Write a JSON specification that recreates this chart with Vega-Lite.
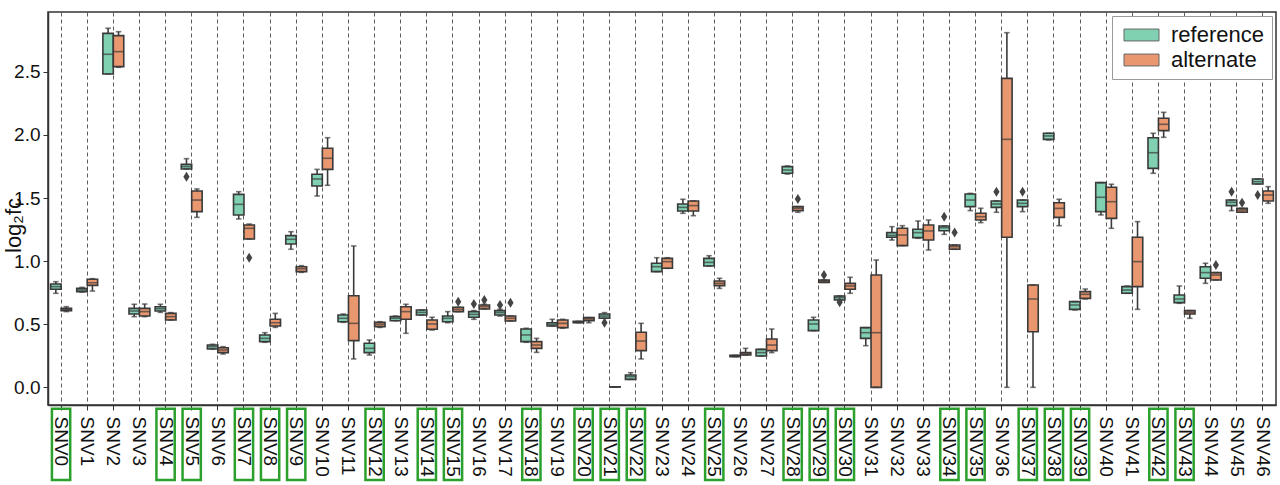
{
  "$schema": "https://vega.github.io/schema/vega-lite/v6.json",
  "width": 1228,
  "height": 393,
  "autosize": {"type": "none"},
  "padding": {"left": 48, "top": 12, "right": 4, "bottom": 80},
  "background": "white",
  "config": {
    "font": "Liberation Sans",
    "view": {"stroke": "#333333", "strokeWidth": 1.5},
    "axis": {"labelFont": "Liberation Sans", "titleFont": "Liberation Sans", "labelColor": "#111", "titleColor": "#111", "domainColor": "#333333", "tickColor": "#333333"}
  },
  "datasets": {
    "boxes": [
      {"snv":"SNV0","g":"reference","lo":0.745,"q1":0.777,"med":0.798,"q3":0.819,"hi":0.837},
      {"snv":"SNV0","g":"alternate","lo":0.600,"q1":0.608,"med":0.615,"q3":0.626,"hi":0.639},
      {"snv":"SNV1","g":"reference","lo":0.755,"q1":0.758,"med":0.771,"q3":0.784,"hi":0.792},
      {"snv":"SNV1","g":"alternate","lo":0.763,"q1":0.808,"med":0.829,"q3":0.856,"hi":0.861},
      {"snv":"SNV2","g":"reference","lo":2.483,"q1":2.483,"med":2.639,"q3":2.805,"hi":2.845},
      {"snv":"SNV2","g":"alternate","lo":2.536,"q1":2.541,"med":2.660,"q3":2.787,"hi":2.818},
      {"snv":"SNV3","g":"reference","lo":0.560,"q1":0.581,"med":0.605,"q3":0.626,"hi":0.658},
      {"snv":"SNV3","g":"alternate","lo":0.560,"q1":0.565,"med":0.600,"q3":0.626,"hi":0.660},
      {"snv":"SNV4","g":"reference","lo":0.594,"q1":0.605,"med":0.623,"q3":0.639,"hi":0.658},
      {"snv":"SNV4","g":"alternate","lo":0.534,"q1":0.534,"med":0.560,"q3":0.586,"hi":0.592},
      {"snv":"SNV5","g":"reference","lo":1.730,"q1":1.730,"med":1.749,"q3":1.767,"hi":1.812},
      {"snv":"SNV5","g":"alternate","lo":1.347,"q1":1.392,"med":1.484,"q3":1.556,"hi":1.572},
      {"snv":"SNV6","g":"reference","lo":0.304,"q1":0.304,"med":0.322,"q3":0.335,"hi":0.341},
      {"snv":"SNV6","g":"alternate","lo":0.264,"q1":0.275,"med":0.296,"q3":0.314,"hi":0.322},
      {"snv":"SNV7","g":"reference","lo":1.334,"q1":1.366,"med":1.450,"q3":1.529,"hi":1.550},
      {"snv":"SNV7","g":"alternate","lo":1.175,"q1":1.175,"med":1.260,"q3":1.286,"hi":1.294},
      {"snv":"SNV8","g":"reference","lo":0.357,"q1":0.362,"med":0.388,"q3":0.415,"hi":0.433},
      {"snv":"SNV8","g":"alternate","lo":0.475,"q1":0.486,"med":0.512,"q3":0.539,"hi":0.586},
      {"snv":"SNV9","g":"reference","lo":1.094,"q1":1.136,"med":1.173,"q3":1.202,"hi":1.233},
      {"snv":"SNV9","g":"alternate","lo":0.911,"q1":0.917,"med":0.940,"q3":0.956,"hi":0.964},
      {"snv":"SNV10","g":"reference","lo":1.516,"q1":1.595,"med":1.651,"q3":1.688,"hi":1.727},
      {"snv":"SNV10","g":"alternate","lo":1.601,"q1":1.727,"med":1.815,"q3":1.894,"hi":1.978},
      {"snv":"SNV11","g":"reference","lo":0.515,"q1":0.520,"med":0.547,"q3":0.573,"hi":0.581},
      {"snv":"SNV11","g":"alternate","lo":0.225,"q1":0.370,"med":0.507,"q3":0.726,"hi":1.120},
      {"snv":"SNV12","g":"reference","lo":0.256,"q1":0.275,"med":0.309,"q3":0.349,"hi":0.375},
      {"snv":"SNV12","g":"alternate","lo":0.475,"q1":0.481,"med":0.499,"q3":0.515,"hi":0.520},
      {"snv":"SNV13","g":"reference","lo":0.528,"q1":0.528,"med":0.547,"q3":0.560,"hi":0.565},
      {"snv":"SNV13","g":"alternate","lo":0.428,"q1":0.539,"med":0.600,"q3":0.639,"hi":0.658},
      {"snv":"SNV14","g":"reference","lo":0.573,"q1":0.573,"med":0.594,"q3":0.613,"hi":0.613},
      {"snv":"SNV14","g":"alternate","lo":0.454,"q1":0.460,"med":0.502,"q3":0.534,"hi":0.555},
      {"snv":"SNV15","g":"reference","lo":0.512,"q1":0.520,"med":0.547,"q3":0.565,"hi":0.600},
      {"snv":"SNV15","g":"alternate","lo":0.600,"q1":0.600,"med":0.618,"q3":0.634,"hi":0.634},
      {"snv":"SNV16","g":"reference","lo":0.539,"q1":0.555,"med":0.578,"q3":0.600,"hi":0.608},
      {"snv":"SNV16","g":"alternate","lo":0.621,"q1":0.621,"med":0.639,"q3":0.652,"hi":0.658},
      {"snv":"SNV17","g":"reference","lo":0.565,"q1":0.573,"med":0.592,"q3":0.608,"hi":0.618},
      {"snv":"SNV17","g":"alternate","lo":0.526,"q1":0.526,"med":0.547,"q3":0.565,"hi":0.565},
      {"snv":"SNV18","g":"reference","lo":0.357,"q1":0.362,"med":0.415,"q3":0.462,"hi":0.468},
      {"snv":"SNV18","g":"alternate","lo":0.277,"q1":0.309,"med":0.335,"q3":0.362,"hi":0.388},
      {"snv":"SNV19","g":"reference","lo":0.486,"q1":0.486,"med":0.499,"q3":0.512,"hi":0.539},
      {"snv":"SNV19","g":"alternate","lo":0.468,"q1":0.473,"med":0.507,"q3":0.534,"hi":0.539},
      {"snv":"SNV20","g":"reference","lo":0.512,"q1":0.512,"med":0.518,"q3":0.523,"hi":0.523},
      {"snv":"SNV20","g":"alternate","lo":0.512,"q1":0.528,"med":0.541,"q3":0.552,"hi":0.552},
      {"snv":"SNV21","g":"reference","lo":0.547,"q1":0.547,"med":0.565,"q3":0.581,"hi":0.592},
      {"snv":"SNV21","g":"alternate","lo":0.003,"q1":0.003,"med":0.003,"q3":0.004,"hi":0.004},
      {"snv":"SNV22","g":"reference","lo":0.063,"q1":0.063,"med":0.085,"q3":0.098,"hi":0.116},
      {"snv":"SNV22","g":"alternate","lo":0.225,"q1":0.291,"med":0.367,"q3":0.436,"hi":0.507},
      {"snv":"SNV23","g":"reference","lo":0.917,"q1":0.917,"med":0.956,"q3":0.983,"hi":1.027},
      {"snv":"SNV23","g":"alternate","lo":0.943,"q1":0.943,"med":0.996,"q3":1.022,"hi":1.027},
      {"snv":"SNV24","g":"reference","lo":1.379,"q1":1.397,"med":1.426,"q3":1.453,"hi":1.490},
      {"snv":"SNV24","g":"alternate","lo":1.360,"q1":1.397,"med":1.440,"q3":1.477,"hi":1.477},
      {"snv":"SNV25","g":"reference","lo":0.961,"q1":0.961,"med":0.990,"q3":1.022,"hi":1.043},
      {"snv":"SNV25","g":"alternate","lo":0.784,"q1":0.806,"med":0.824,"q3":0.843,"hi":0.864},
      {"snv":"SNV26","g":"reference","lo":0.243,"q1":0.243,"med":0.248,"q3":0.254,"hi":0.254},
      {"snv":"SNV26","g":"alternate","lo":0.256,"q1":0.256,"med":0.264,"q3":0.275,"hi":0.309},
      {"snv":"SNV27","g":"reference","lo":0.248,"q1":0.248,"med":0.275,"q3":0.301,"hi":0.301},
      {"snv":"SNV27","g":"alternate","lo":0.275,"q1":0.291,"med":0.335,"q3":0.383,"hi":0.462},
      {"snv":"SNV28","g":"reference","lo":1.690,"q1":1.696,"med":1.722,"q3":1.749,"hi":1.754},
      {"snv":"SNV28","g":"alternate","lo":1.387,"q1":1.400,"med":1.419,"q3":1.432,"hi":1.432},
      {"snv":"SNV29","g":"reference","lo":0.449,"q1":0.449,"med":0.502,"q3":0.534,"hi":0.555},
      {"snv":"SNV29","g":"alternate","lo":0.832,"q1":0.832,"med":0.843,"q3":0.851,"hi":0.851},
      {"snv":"SNV30","g":"reference","lo":0.692,"q1":0.692,"med":0.711,"q3":0.724,"hi":0.724},
      {"snv":"SNV30","g":"alternate","lo":0.745,"q1":0.777,"med":0.803,"q3":0.824,"hi":0.872},
      {"snv":"SNV31","g":"reference","lo":0.330,"q1":0.388,"med":0.433,"q3":0.473,"hi":0.473},
      {"snv":"SNV31","g":"alternate","lo":0.0,"q1":0.0,"med":0.433,"q3":0.890,"hi":1.009},
      {"snv":"SNV32","g":"reference","lo":1.167,"q1":1.189,"med":1.204,"q3":1.226,"hi":1.273},
      {"snv":"SNV32","g":"alternate","lo":1.123,"q1":1.123,"med":1.207,"q3":1.260,"hi":1.281},
      {"snv":"SNV33","g":"reference","lo":1.181,"q1":1.186,"med":1.226,"q3":1.252,"hi":1.318},
      {"snv":"SNV33","g":"alternate","lo":1.088,"q1":1.167,"med":1.239,"q3":1.286,"hi":1.326},
      {"snv":"SNV34","g":"reference","lo":1.212,"q1":1.241,"med":1.265,"q3":1.278,"hi":1.278},
      {"snv":"SNV34","g":"alternate","lo":1.094,"q1":1.094,"med":1.115,"q3":1.128,"hi":1.128},
      {"snv":"SNV35","g":"reference","lo":1.400,"q1":1.432,"med":1.484,"q3":1.532,"hi":1.537},
      {"snv":"SNV35","g":"alternate","lo":1.305,"q1":1.326,"med":1.352,"q3":1.379,"hi":1.419},
      {"snv":"SNV36","g":"reference","lo":1.387,"q1":1.426,"med":1.453,"q3":1.477,"hi":1.477},
      {"snv":"SNV36","g":"alternate","lo":0.0,"q1":1.189,"med":1.965,"q3":2.448,"hi":2.810},
      {"snv":"SNV37","g":"reference","lo":1.392,"q1":1.432,"med":1.458,"q3":1.484,"hi":1.484},
      {"snv":"SNV37","g":"alternate","lo":0.0,"q1":0.441,"med":0.700,"q3":0.811,"hi":0.811},
      {"snv":"SNV38","g":"reference","lo":1.960,"q1":1.965,"med":1.992,"q3":2.013,"hi":2.013},
      {"snv":"SNV38","g":"alternate","lo":1.281,"q1":1.347,"med":1.418,"q3":1.463,"hi":1.490},
      {"snv":"SNV39","g":"reference","lo":0.613,"q1":0.618,"med":0.652,"q3":0.679,"hi":0.679},
      {"snv":"SNV39","g":"alternate","lo":0.700,"q1":0.705,"med":0.737,"q3":0.758,"hi":0.779},
      {"snv":"SNV40","g":"reference","lo":1.366,"q1":1.392,"med":1.506,"q3":1.622,"hi":1.622},
      {"snv":"SNV40","g":"alternate","lo":1.260,"q1":1.339,"med":1.471,"q3":1.585,"hi":1.609},
      {"snv":"SNV41","g":"reference","lo":0.745,"q1":0.745,"med":0.771,"q3":0.798,"hi":0.803},
      {"snv":"SNV41","g":"alternate","lo":0.618,"q1":0.798,"med":0.996,"q3":1.189,"hi":1.313},
      {"snv":"SNV42","g":"reference","lo":1.696,"q1":1.735,"med":1.859,"q3":1.978,"hi":2.013},
      {"snv":"SNV42","g":"alternate","lo":1.981,"q1":2.034,"med":2.084,"q3":2.132,"hi":2.179},
      {"snv":"SNV43","g":"reference","lo":0.666,"q1":0.671,"med":0.700,"q3":0.732,"hi":0.803},
      {"snv":"SNV43","g":"alternate","lo":0.547,"q1":0.581,"med":0.594,"q3":0.608,"hi":0.608},
      {"snv":"SNV44","g":"reference","lo":0.824,"q1":0.864,"med":0.909,"q3":0.956,"hi":0.983},
      {"snv":"SNV44","g":"alternate","lo":0.851,"q1":0.851,"med":0.890,"q3":0.909,"hi":0.909},
      {"snv":"SNV45","g":"reference","lo":1.400,"q1":1.440,"med":1.466,"q3":1.484,"hi":1.484},
      {"snv":"SNV45","g":"alternate","lo":1.387,"q1":1.387,"med":1.405,"q3":1.418,"hi":1.418},
      {"snv":"SNV46","g":"reference","lo":1.611,"q1":1.611,"med":1.630,"q3":1.651,"hi":1.651},
      {"snv":"SNV46","g":"alternate","lo":1.458,"q1":1.477,"med":1.524,"q3":1.556,"hi":1.590}
    ],
    "outliers": [
      {"snv":"SNV5","g":"reference","v":1.669},
      {"snv":"SNV7","g":"alternate","v":1.027},
      {"snv":"SNV15","g":"alternate","v":0.679},
      {"snv":"SNV16","g":"reference","v":0.660},
      {"snv":"SNV16","g":"alternate","v":0.692},
      {"snv":"SNV17","g":"reference","v":0.652},
      {"snv":"SNV17","g":"alternate","v":0.671},
      {"snv":"SNV21","g":"reference","v":0.512},
      {"snv":"SNV28","g":"alternate","v":1.493},
      {"snv":"SNV29","g":"alternate","v":0.890},
      {"snv":"SNV30","g":"reference","v":0.674},
      {"snv":"SNV34","g":"reference","v":1.352},
      {"snv":"SNV34","g":"alternate","v":1.226},
      {"snv":"SNV36","g":"reference","v":1.550},
      {"snv":"SNV37","g":"reference","v":1.550},
      {"snv":"SNV44","g":"alternate","v":0.969},
      {"snv":"SNV45","g":"reference","v":1.550},
      {"snv":"SNV45","g":"alternate","v":1.463},
      {"snv":"SNV46","g":"reference","v":1.524}
    ],
    "boxed": [
      {"snv":"SNV0"},{"snv":"SNV4"},{"snv":"SNV5"},{"snv":"SNV7"},{"snv":"SNV8"},{"snv":"SNV9"},
      {"snv":"SNV12"},{"snv":"SNV14"},{"snv":"SNV15"},{"snv":"SNV18"},{"snv":"SNV20"},{"snv":"SNV21"},
      {"snv":"SNV22"},{"snv":"SNV25"},{"snv":"SNV28"},{"snv":"SNV29"},{"snv":"SNV30"},{"snv":"SNV34"},
      {"snv":"SNV35"},{"snv":"SNV37"},{"snv":"SNV38"},{"snv":"SNV39"},{"snv":"SNV42"},{"snv":"SNV43"}
    ]
  },
  "encoding": {
    "x": {
      "field": "snv", "type": "nominal",
      "scale": {
        "domain": ["SNV0","SNV1","SNV2","SNV3","SNV4","SNV5","SNV6","SNV7","SNV8","SNV9","SNV10","SNV11","SNV12","SNV13","SNV14","SNV15","SNV16","SNV17","SNV18","SNV19","SNV20","SNV21","SNV22","SNV23","SNV24","SNV25","SNV26","SNV27","SNV28","SNV29","SNV30","SNV31","SNV32","SNV33","SNV34","SNV35","SNV36","SNV37","SNV38","SNV39","SNV40","SNV41","SNV42","SNV43","SNV44","SNV45","SNV46"],
        "paddingInner": 0, "paddingOuter": 0
      },
      "axis": {
        "title": null, "labelAngle": 90, "labelFontSize": 19, "labelPadding": 6,
        "tickSize": 5, "tickWidth": 1, "bandPosition": 0.5,
        "grid": true, "gridDash": [4, 3], "gridColor": "#5e5e5e", "gridWidth": 1,
        "domain": true, "domainWidth": 1.5
      }
    }
  },
  "layer": [
    {
      "data": {"name": "boxes"},
      "mark": {"type": "rule", "color": "#3a3a3a", "strokeWidth": 1.6},
      "encoding": {
        "xOffset": {"field": "g", "type": "nominal", "scale": {"domain": ["reference", "alternate"], "paddingInner": 0, "paddingOuter": 0.25}},
        "y": {"field": "lo", "type": "quantitative", "title": "log₂fc",
          "scale": {"domain": [-0.14, 2.974], "nice": false, "zero": false},
          "axis": {"values": [0, 0.5, 1, 1.5, 2, 2.5], "format": ".1f", "labelFontSize": 19, "titleFontSize": 22, "titleFontWeight": "normal", "titlePadding": -12, "titleY": 213, "grid": false, "tickSize": 5, "domainWidth": 1.5, "labelPadding": 3}},
        "y2": {"field": "hi"}
      }
    },
    {
      "data": {"name": "boxes"},
      "mark": {"type": "bar", "stroke": "#3a3a3a", "strokeWidth": 1.6},
      "encoding": {
        "xOffset": {"field": "g", "type": "nominal", "scale": {"domain": ["reference", "alternate"], "paddingInner": 0, "paddingOuter": 0.25}},
        "y": {"field": "q1", "type": "quantitative", "title": "log₂fc"},
        "y2": {"field": "q3"},
        "color": {"field": "g", "type": "nominal", "sort": ["reference", "alternate"],
          "scale": {"domain": ["reference", "alternate"], "range": ["#80d0b2", "#e9976f"]},
          "legend": {"title": null, "orient": "top-right", "offset": 4, "fillColor": "white", "strokeColor": "#9a9a9a", "padding": 8,
            "labelFontSize": 22, "labelFont": "Liberation Sans", "labelColor": "#111", "labelOffset": 29, "rowPadding": 3,
            "symbolType": "M-1,-0.85H4V0.85H-1Z", "symbolSize": 196, "symbolStrokeColor": "#666", "symbolStrokeWidth": 1}}
      }
    },
    {
      "data": {"name": "boxes"},
      "mark": {"type": "tick", "color": "#3a3a3a", "size": 10.4, "thickness": 1.6},
      "encoding": {
        "xOffset": {"field": "g", "type": "nominal", "scale": {"domain": ["reference", "alternate"], "paddingInner": 0, "paddingOuter": 0.25}},
        "y": {"field": "med", "type": "quantitative", "title": "log₂fc"}
      }
    },
    {
      "data": {"name": "boxes"},
      "mark": {"type": "tick", "color": "#3a3a3a", "size": 5.5, "thickness": 1.6},
      "encoding": {
        "xOffset": {"field": "g", "type": "nominal", "scale": {"domain": ["reference", "alternate"], "paddingInner": 0, "paddingOuter": 0.25}},
        "y": {"field": "lo", "type": "quantitative", "title": "log₂fc"}
      }
    },
    {
      "data": {"name": "boxes"},
      "mark": {"type": "tick", "color": "#3a3a3a", "size": 5.5, "thickness": 1.6},
      "encoding": {
        "xOffset": {"field": "g", "type": "nominal", "scale": {"domain": ["reference", "alternate"], "paddingInner": 0, "paddingOuter": 0.25}},
        "y": {"field": "hi", "type": "quantitative", "title": "log₂fc"}
      }
    },
    {
      "data": {"name": "outliers"},
      "mark": {"type": "point", "shape": "M0,-1L0.62,0L0,1L-0.62,0Z", "filled": true, "color": "#444444", "size": 100, "opacity": 1},
      "encoding": {
        "xOffset": {"field": "g", "type": "nominal", "scale": {"domain": ["reference", "alternate"], "paddingInner": 0, "paddingOuter": 0.25}},
        "y": {"field": "v", "type": "quantitative", "title": "log₂fc"}
      }
    },
    {
      "data": {"name": "boxed"},
      "mark": {"type": "bar", "fillOpacity": 0, "stroke": "#2ca02c", "strokeWidth": 2.5, "clip": false, "width": {"band": 0.7}},
      "encoding": {
        "y": {"datum": -0.17, "type": "quantitative", "title": "log₂fc"},
        "y2": {"datum": -0.735}
      }
    }
  ]
}
